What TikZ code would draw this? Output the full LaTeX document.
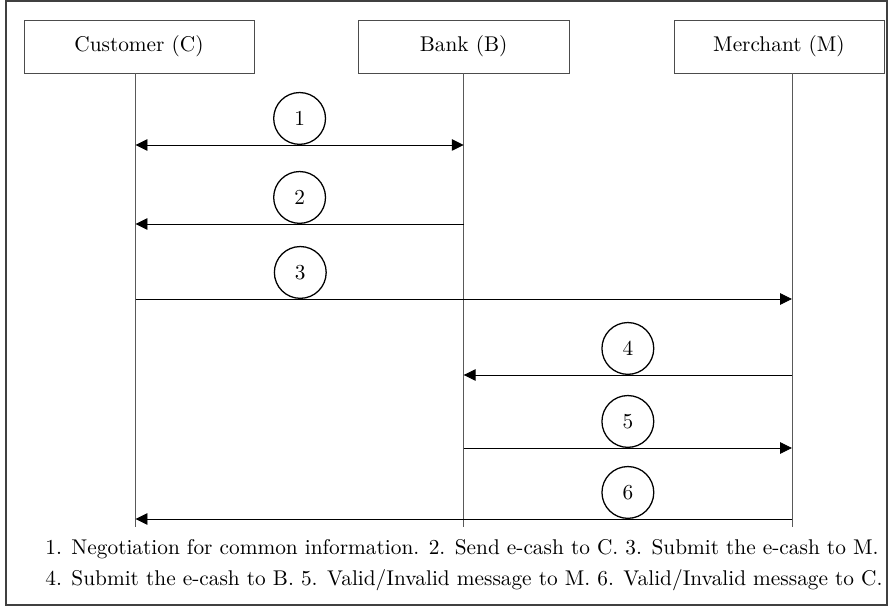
\documentclass[tikz,border=0pt]{standalone}
\usetikzlibrary{arrows.meta}
\begin{document}
\begin{tikzpicture}[x=0.469pt,y=-0.469pt,>={Triangle[length=5.6pt,width=5.4pt]},
  party/.style={draw=black!70,minimum height=24.8pt,inner sep=0pt},
  life/.style={draw=black!65},
  msg/.style={->,black},
  num/.style={draw,circle,line width=0.6pt,minimum size=24.3pt,inner sep=0pt,anchor=south},
  legend/.style={anchor=west,inner sep=0pt}]
\useasboundingbox (0,0) rectangle (889,608);
\draw[black!75,line width=0.6pt] (6,1) rectangle (887,605);
% the three parties
\node[party,minimum width=107.8pt] (C) at (139,46.5) {Customer (C)};
\node[party,minimum width=98.9pt] (B) at (463.7,46.5) {Bank (B)};
\node[party,minimum width=98.5pt] (M) at (779,46.5) {Merchant (M)};
\coordinate (Cend) at (135.5,527);
\coordinate (Bend) at (463.7,527);
\coordinate (Mend) at (792,527);
\draw[life] (Cend |- C.south) -- (Cend);
\draw[life] (Bend |- B.south) -- (Bend);
\draw[life] (Mend |- M.south) -- (Mend);
% messages
\draw[msg,<->] (Cend |- 0,145) -- node[num]{1} (Bend |- 0,145);
\draw[msg] (Bend |- 0,224) -- node[num]{2} (Cend |- 0,224);
\draw[msg] (Cend |- 0,299) -- node[num,pos=.251]{3} (Mend |- 0,299);
\draw[msg] (Mend |- 0,375) -- node[num]{4} (Bend |- 0,375);
\draw[msg] (Bend |- 0,448) -- node[num]{5} (Mend |- 0,448);
\draw[msg] (Mend |- 0,519) -- node[num,pos=.25]{6} (Cend |- 0,519);
% legend
\node[legend] (n1) at (45,549) {1. Negotiation for common information. 2. Send e-cash to C. 3. Submit the e-cash to M.};
\node[legend] (n2) at (45,580) {4. Submit the e-cash to B. 5. Valid/Invalid message to M. 6. Valid/Invalid message to C.};
\end{tikzpicture}
\end{document}
